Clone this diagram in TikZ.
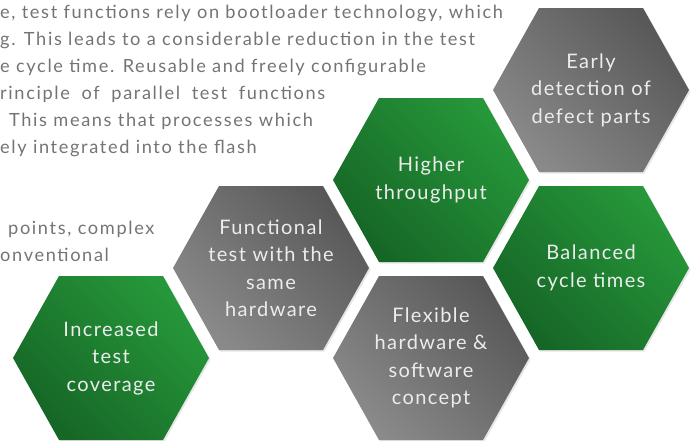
\documentclass[tikz,border=0pt]{standalone}
\usepackage{fontspec}
\setmainfont{Lato}[LetterSpace=7]
\newfontfamily\bodyfont{Lato}[LetterSpace=9]
\usetikzlibrary{shadows}
\definecolor{textgray}{RGB}{116,116,116}
\definecolor{labwhite}{RGB}{236,236,236}
\definecolor{greenA}{RGB}{38,152,58}
\definecolor{greenB}{RGB}{22,102,38}
\definecolor{grayA}{RGB}{88,88,88}
\definecolor{grayB}{RGB}{138,138,138}
\tikzset{
  % Olti burchaklar
  hexgreen/.style = {top color=greenA, bottom color=greenB, shading angle=-45,
    drop shadow={opacity=0.2, shadow xshift=1.5pt, shadow yshift=-1.5pt}},
  hexgray/.style  = {top color=grayA, bottom color=grayB, shading angle=-45,
    drop shadow={opacity=0.2, shadow xshift=1.5pt, shadow yshift=-1.5pt}},
  % Etiketlar
  hexlab/.style   = {labwhite, align=center, inner sep=0pt,
    font=\fontsize{20}{27.5}\selectfont},
  bodyline/.style = {textgray, anchor=base west, inner sep=0pt,
    font=\bodyfont\fontsize{18.2}{27}\selectfont},
}

\begin{document}
\begin{tikzpicture}[x=1pt, y=-1pt]
  \useasboundingbox (0,0) rectangle (698,440);
  \clip (0,0) rectangle (698,440);
  % Matn
  \node[bodyline] (line1) at (0,18)  {e, test functions rely on bootloader technology, which};
  \node[bodyline] (line2) at (0,45)  {g. This leads to a considerable reduction in the test};
  \node[bodyline] (line3) at (0,72)  {e cycle time. Reusable and freely configurable};
  \node[bodyline] (line4) at (0,99)  {\makebox[325pt][s]{rinciple of parallel test functions}};
  \node[bodyline] (line5) at (9,126) {This means that processes which};
  \node[bodyline] (line6) at (0,153) {ely integrated into the flash};
  \node[bodyline] (line7) at (8,234) {points, complex};
  \node[bodyline] (line8) at (0,261) {onventional};
  % Markazlar
  \coordinate (early)      at (591,90);
  \coordinate (higher)     at (431,180);
  \coordinate (balanced)   at (591,268);
  \coordinate (functional) at (271,268);
  \coordinate (flexible)   at (431,358);
  \coordinate (increased)  at (111,358);
  % Olti burchaklar
  \foreach \c in {early,functional,flexible}
    \shade[hexgray, shift={(\c)}] (-98,0) -- (-52,-82) -- (52,-82) -- (98,0) -- (52,82) -- (-52,82) -- cycle;
  \foreach \c in {higher,balanced,increased}
    \shade[hexgreen, shift={(\c)}] (-98,0) -- (-52,-82) -- (52,-82) -- (98,0) -- (52,82) -- (-52,82) -- cycle;
  % Etiketlar
  \node[hexlab] (earlylab)      at (early)      {Early\\detection of\\defect parts};
  \node[hexlab] (higherlab)     at (higher)     {Higher\\throughput};
  \node[hexlab] (balancedlab)   at (balanced)   {Balanced\\cycle times};
  \node[hexlab] (functionallab) at (functional) {Functional\\test with the\\same\\hardware};
  \node[hexlab] (flexiblelab)   at (flexible)   {Flexible\\hardware \&\\software\\concept};
  \node[hexlab] (increasedlab)  at (increased)  {Increased\\test\\coverage};
\end{tikzpicture}
\end{document}
